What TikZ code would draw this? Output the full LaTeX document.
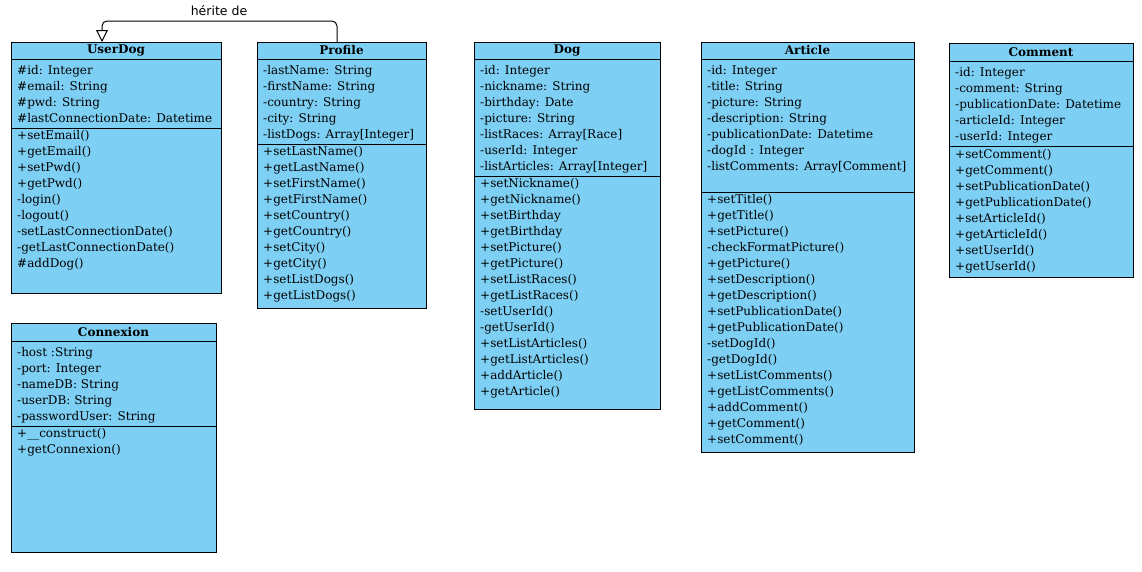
\documentclass[tikz,border=0pt]{standalone}
\usepackage{fontspec}
\setmainfont{DejaVu Serif}
\newfontfamily\labelfont{DejaVu Sans}
\usetikzlibrary{arrows.meta}
\definecolor{classblue}{RGB}{126,207,244}
\begin{document}
\begin{tikzpicture}[x=1pt, y=-1pt,
    cls/.style={draw=black, fill=classblue, line width=1pt, anchor=north west, inner sep=0pt, outer sep=0pt},
    ttl/.style={cls, minimum height=17pt, font=\fontsize{12}{13}\selectfont\bfseries},
    txt/.style={anchor=north west, inner sep=0pt, align=left, font=\fontsize{12}{16}\selectfont},
    inh/.style={draw=black, line width=1pt, rounded corners=5pt, -{Triangle[open, length=12pt, width=12pt]}}]
    \useasboundingbox (0,0) rectangle (1142,571);

    \node[ttl, minimum width=210pt] (ud) at (11,42) {UserDog};
    \node[cls, minimum width=210pt, minimum height=69pt] (ud-a) at (ud.south west) {};
    \node[cls, minimum width=210pt, minimum height=165pt] (ud-m) at (ud-a.south west) {};
    \node[txt] (ud-at) at ([xshift=6pt, yshift=-3.8pt]ud-a.north west)
        {\strut\#id: Integer\\\#email: String\\\#pwd: String\\\#lastConnectionDate: Datetime};
    \node[txt] (ud-mt) at ([xshift=6pt, yshift=-0.3pt]ud-m.north west)
        {\strut+setEmail()\\+getEmail()\\+setPwd()\\+getPwd()\\-login()\\-logout()\\-setLastConnectionDate()\\-getLastConnectionDate()\\\#addDog()};

    \node[ttl, minimum width=169pt] (pr) at (257,42) {Profile};
    \node[cls, minimum width=169pt, minimum height=85pt] (pr-a) at (pr.south west) {};
    \node[cls, minimum width=169pt, minimum height=164pt] (pr-m) at (pr-a.south west) {};
    \node[txt] (pr-at) at ([xshift=6pt, yshift=-3.8pt]pr-a.north west)
        {\strut-lastName: String\\-firstName: String\\-country: String\\-city: String\\-listDogs: Array[Integer]};
    \node[txt] (pr-mt) at ([xshift=6pt, yshift=-0.3pt]pr-m.north west)
        {\strut+setLastName()\\+getLastName()\\+setFirstName()\\+getFirstName()\\+setCountry()\\+getCountry()\\+setCity()\\+getCity()\\+setListDogs()\\+getListDogs()};

    \node[ttl, minimum width=186pt] (dog) at (474,42) {Dog};
    \node[cls, minimum width=186pt, minimum height=117pt] (dog-a) at (dog.south west) {};
    \node[cls, minimum width=186pt, minimum height=233pt] (dog-m) at (dog-a.south west) {};
    \node[txt] (dog-at) at ([xshift=6pt, yshift=-3.8pt]dog-a.north west)
        {\strut-id: Integer\\-nickname: String\\-birthday: Date\\-picture: String\\-listRaces: Array[Race]\\-userId: Integer\\-listArticles: Array[Integer]};
    \node[txt] (dog-mt) at ([xshift=6pt, yshift=-0.3pt]dog-m.north west)
        {\strut+setNickname()\\+getNickname()\\+setBirthday\\+getBirthday\\+setPicture()\\+getPicture()\\+setListRaces()\\+getListRaces()\\-setUserId()\\-getUserId()\\+setListArticles()\\+getListArticles()\\+addArticle()\\+getArticle()};

    \node[ttl, minimum width=213pt] (art) at (701,42) {Article};
    \node[cls, minimum width=213pt, minimum height=133pt] (art-a) at (art.south west) {};
    \node[cls, minimum width=213pt, minimum height=260pt] (art-m) at (art-a.south west) {};
    \node[txt] (art-at) at ([xshift=6pt, yshift=-3.8pt]art-a.north west)
        {\strut-id: Integer\\-title: String\\-picture: String\\-description: String\\-publicationDate: Datetime\\-dogId : Integer\\-listComments: Array[Comment]};
    \node[txt] (art-mt) at ([xshift=6pt, yshift=-0.3pt]art-m.north west)
        {\strut+setTitle()\\+getTitle()\\+setPicture()\\-checkFormatPicture()\\+getPicture()\\+setDescription()\\+getDescription()\\+setPublicationDate()\\+getPublicationDate()\\-setDogId()\\-getDogId()\\+setListComments()\\+getListComments()\\+addComment()\\+getComment()\\+setComment()};

    \node[ttl, minimum width=184pt, minimum height=17.5pt] (com) at (949,43.5) {Comment};
    \node[cls, minimum width=184pt, minimum height=85.5pt] (com-a) at (com.south west) {};
    \node[cls, minimum width=184pt, minimum height=131pt] (com-m) at (com-a.south west) {};
    \node[txt] (com-at) at ([xshift=6pt, yshift=-3.8pt]com-a.north west)
        {\strut-id: Integer\\-comment: String\\-publicationDate: Datetime\\-articleId: Integer\\-userId: Integer};
    \node[txt] (com-mt) at ([xshift=6pt, yshift=-0.3pt]com-m.north west)
        {\strut+setComment()\\+getComment()\\+setPublicationDate()\\+getPublicationDate()\\+setArticleId()\\+getArticleId()\\+setUserId()\\+getUserId()};

    \node[ttl, minimum width=205pt, minimum height=18pt] (cnx) at (11,323) {Connexion};
    \node[cls, minimum width=205pt, minimum height=85pt] (cnx-a) at (cnx.south west) {};
    \node[cls, minimum width=205pt, minimum height=126pt] (cnx-m) at (cnx-a.south west) {};
    \node[txt] (cnx-at) at ([xshift=6pt, yshift=-3.8pt]cnx-a.north west)
        {\strut-host :String\\-port: Integer\\-nameDB: String\\-userDB: String\\-passwordUser: String};
    \node[txt] (cnx-mt) at ([xshift=6pt, yshift=-0.3pt]cnx-m.north west)
        {\strut+\_\_construct()\\+getConnexion()};

    \draw[inh] ([xshift=-4.5pt]pr.north) -- ++(0,-21) -| ([xshift=-14pt]ud.north);
    \node[font=\labelfont\fontsize{12.5}{14}\selectfont, inner sep=0pt] (inh-lbl) at (219,11) {hérite de};
\end{tikzpicture}
\end{document}
